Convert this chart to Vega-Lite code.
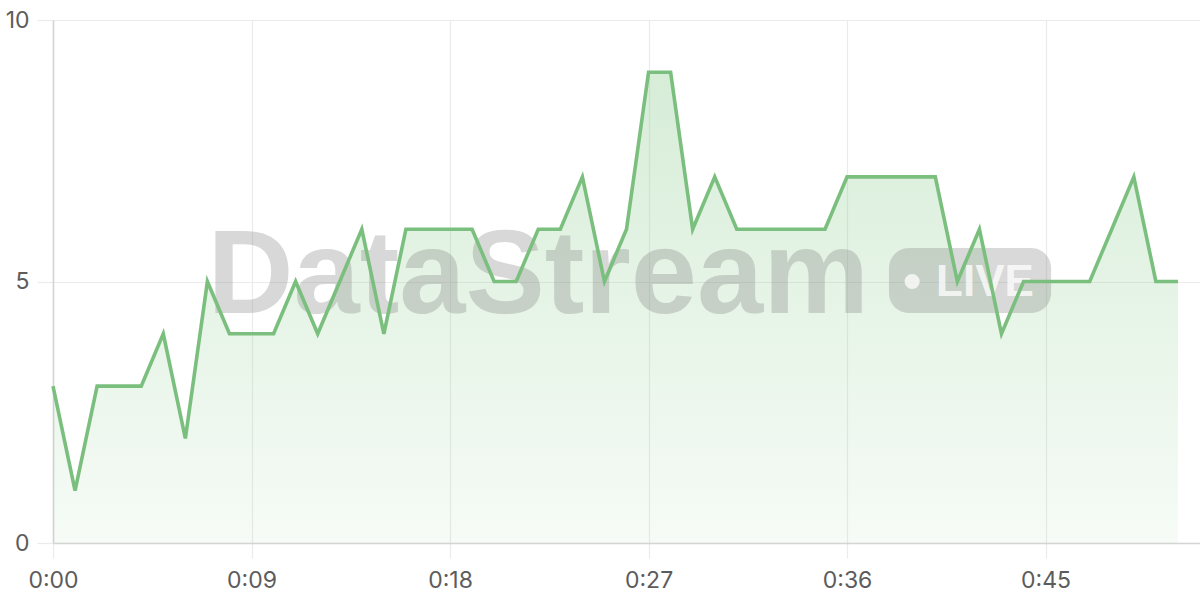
{
  "$schema": "https://vega.github.io/schema/vega-lite/v6.json",
  "width": 1147,
  "height": 523,
  "autosize": {"type": "none"},
  "padding": {"left": 53, "top": 20, "right": 0, "bottom": 57},
  "background": "white",
  "config": {
    "view": {"stroke": null},
    "font": "Inter",
    "axis": {
      "labelFont": "Inter",
      "labelFontSize": 23,
      "labelColor": "#5c5c5c",
      "labelFlush": false,
      "gridColor": "#ebebeb",
      "gridWidth": 1.2,
      "tickColor": "#ebebeb",
      "tickWidth": 1.2,
      "domainColor": "#d4d4d4",
      "domainWidth": 1.5,
      "title": null
    }
  },
  "datasets": {
    "activity": [
      {"t": 0, "v": 3}, {"t": 1, "v": 1}, {"t": 2, "v": 3}, {"t": 3, "v": 3},
      {"t": 4, "v": 3}, {"t": 5, "v": 4}, {"t": 6, "v": 2}, {"t": 7, "v": 5},
      {"t": 8, "v": 4}, {"t": 9, "v": 4}, {"t": 10, "v": 4}, {"t": 11, "v": 5},
      {"t": 12, "v": 4}, {"t": 13, "v": 5}, {"t": 14, "v": 6}, {"t": 15, "v": 4},
      {"t": 16, "v": 6}, {"t": 17, "v": 6}, {"t": 18, "v": 6}, {"t": 19, "v": 6},
      {"t": 20, "v": 5}, {"t": 21, "v": 5}, {"t": 22, "v": 6}, {"t": 23, "v": 6},
      {"t": 24, "v": 7}, {"t": 25, "v": 5}, {"t": 26, "v": 6}, {"t": 27, "v": 9},
      {"t": 28, "v": 9}, {"t": 29, "v": 6}, {"t": 30, "v": 7}, {"t": 31, "v": 6},
      {"t": 32, "v": 6}, {"t": 33, "v": 6}, {"t": 34, "v": 6}, {"t": 35, "v": 6},
      {"t": 36, "v": 7}, {"t": 37, "v": 7}, {"t": 38, "v": 7}, {"t": 39, "v": 7},
      {"t": 40, "v": 7}, {"t": 41, "v": 5}, {"t": 42, "v": 6}, {"t": 43, "v": 4},
      {"t": 44, "v": 5}, {"t": 45, "v": 5}, {"t": 46, "v": 5}, {"t": 47, "v": 5},
      {"t": 48, "v": 6}, {"t": 49, "v": 7}, {"t": 50, "v": 5}, {"t": 51, "v": 5}
    ],
    "mark": [{"label": "DataStream", "badge": "LIVE"}]
  },
  "layer": [
    {
      "data": {"name": "activity"},
      "mark": {
        "type": "area",
        "color": {
          "gradient": "linear",
          "x1": 0, "y1": 1, "x2": 0, "y2": 0,
          "stops": [
            {"offset": 0, "color": "rgba(129,199,132,0.07)"},
            {"offset": 1, "color": "rgba(129,199,132,0.32)"}
          ]
        }
      },
      "encoding": {
        "x": {
          "field": "t",
          "type": "quantitative",
          "scale": {"domain": [0, 52], "nice": false, "zero": false},
          "axis": {
            "values": [0, 9, 18, 27, 36, 45],
            "tickSize": 15,
            "labelPadding": 11,
            "labelExpr": "floor(datum.value / 60) + ':' + (datum.value % 60 < 10 ? '0' : '') + (datum.value % 60)"
          }
        },
        "y": {
          "field": "v",
          "type": "quantitative",
          "scale": {"domain": [0, 10], "nice": false},
          "axis": {
            "values": [0, 5, 10],
            "tickSize": 16,
            "labelPadding": 8
          }
        }
      }
    },
    {
      "data": {"name": "mark"},
      "mark": {"type": "text", "font": "Liberation Sans", "fontWeight": "bold", "fontSize": 119, "align": "center", "baseline": "alphabetic", "color": "#808080", "opacity": 0.3},
      "encoding": {
        "text": {"field": "label"},
        "x": {"datum": 22.0},
        "y": {"datum": 4.4}
      }
    },
    {
      "data": {"name": "mark"},
      "mark": {"type": "rect", "color": "#808080", "opacity": 0.3, "cornerRadius": 20},
      "encoding": {
        "x": {"datum": 37.9},
        "x2": {"datum": 45.25},
        "y": {"datum": 5.64},
        "y2": {"datum": 4.4}
      }
    },
    {
      "data": {"name": "mark"},
      "mark": {"type": "point", "filled": true, "color": "white", "opacity": 0.75, "size": 230},
      "encoding": {
        "x": {"datum": 38.95},
        "y": {"datum": 5.0}
      }
    },
    {
      "data": {"name": "mark"},
      "mark": {"type": "text", "font": "Liberation Sans", "fontWeight": "bold", "fontSize": 44, "align": "center", "baseline": "alphabetic", "color": "white", "opacity": 0.75},
      "encoding": {
        "text": {"field": "badge"},
        "x": {"datum": 42.25},
        "y": {"datum": 4.73}
      }
    },
    {
      "data": {"name": "activity"},
      "mark": {"type": "line", "color": "#7bbf7e", "strokeWidth": 3.6},
      "encoding": {
        "x": {"field": "t", "type": "quantitative"},
        "y": {"field": "v", "type": "quantitative"}
      }
    }
  ]
}
